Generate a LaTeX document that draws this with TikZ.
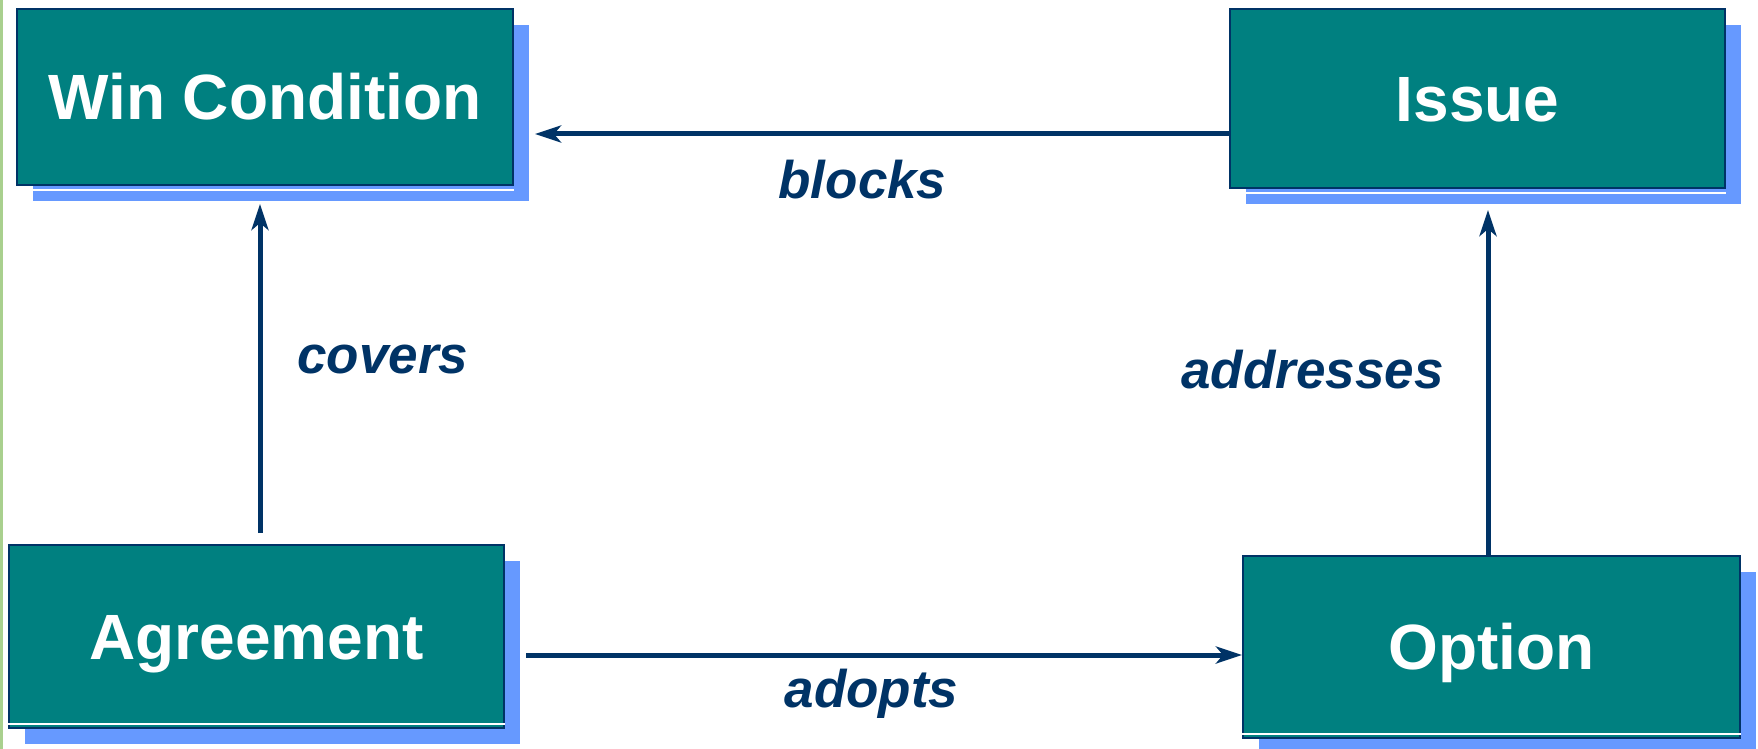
\documentclass[tikz,border=0pt]{standalone}
\usepackage{fontspec}
\setmainfont{Liberation Sans}
\usetikzlibrary{positioning,shadows,arrows.meta}

\definecolor{boxteal}{HTML}{008080}
\definecolor{shadowblue}{HTML}{6699FF}
\definecolor{navy}{HTML}{003366}
\definecolor{stripgreen}{HTML}{A9D08E}

\begin{document}
\begin{tikzpicture}[
  x=0.5pt, y=-0.5pt,
  box/.style={draw=navy, line width=1pt, fill=boxteal, text=white,
    font=\fontsize{32}{38}\selectfont\bfseries,
    text height=22.9pt, text depth=0pt,
    drop shadow={shadow xshift=8pt, shadow yshift=-8pt, fill=shadowblue, opacity=1}},
  lbl/.style={text=navy, inner sep=0pt,
    font=\fontsize{26.5}{32}\selectfont\bfseries\itshape},
  link/.style={draw=navy, line width=2.5pt,
    -{Stealth[length=13pt, width=8.5pt, inset=3.5pt]}},
  gleam/.style={draw=white, line width=1pt}
]
\useasboundingbox (0,0) rectangle (1758,749);
\fill[stripgreen] (0,0) rectangle (3,749);

\node[box, minimum width=248pt, minimum height=88pt] (win) at (265,97) {Win Condition};
\node[box, minimum width=247.5pt, minimum height=89.5pt] (issue) at (1477.5,98.5) {Issue};
\node[box, minimum width=247.5pt, minimum height=91.5pt] (agreement) at (256.5,636.5) {Agreement};
\node[box, minimum width=248.5pt, minimum height=91pt] (option) at (1491.5,647) {Option};

% white edge lines along the box bottoms
\draw[gleam] ([yshift=-2pt]win.south west) -- ([yshift=-2pt]win.south east);
\draw[gleam] ([yshift=-2pt]issue.south west) -- ([yshift=-2pt]issue.south east);
\draw[gleam] ([yshift=2.5pt]agreement.south west) -- ([yshift=2.5pt]agreement.south east);
\draw[gleam] ([yshift=2.5pt]option.south west) -- ([yshift=2.5pt]option.south east);

% blocks
\draw[link, shorten >=10.5pt] ([yshift=-17.75pt]issue.west) -- ([yshift=-17.75pt]issue.west -| win.east)
  node[lbl, midway, below=12pt, xshift=-4.5pt] (blocks) {blocks};
% covers
\draw[link, shorten >=9pt] ([xshift=1.75pt, yshift=5.5pt]agreement.north) -- ([xshift=1.75pt]agreement.north |- win.south)
  node[lbl, midway, right=17.5pt] (covers) {covers};
% addresses
\draw[link, shorten >=10.5pt] ([xshift=-1.75pt]option.north) -- ([xshift=-1.75pt]option.north |- issue.south)
  node[lbl, midway, left=21pt, yshift=1pt] (addresses) {addresses};
% adopts
\draw[link, shorten <=10.5pt] ([yshift=-4pt]option.west -| agreement.east) -- ([yshift=-4pt]option.west)
  node[lbl, midway, below=6pt, xshift=-1pt] (adopts) {adopts};

\end{tikzpicture}
\end{document}
